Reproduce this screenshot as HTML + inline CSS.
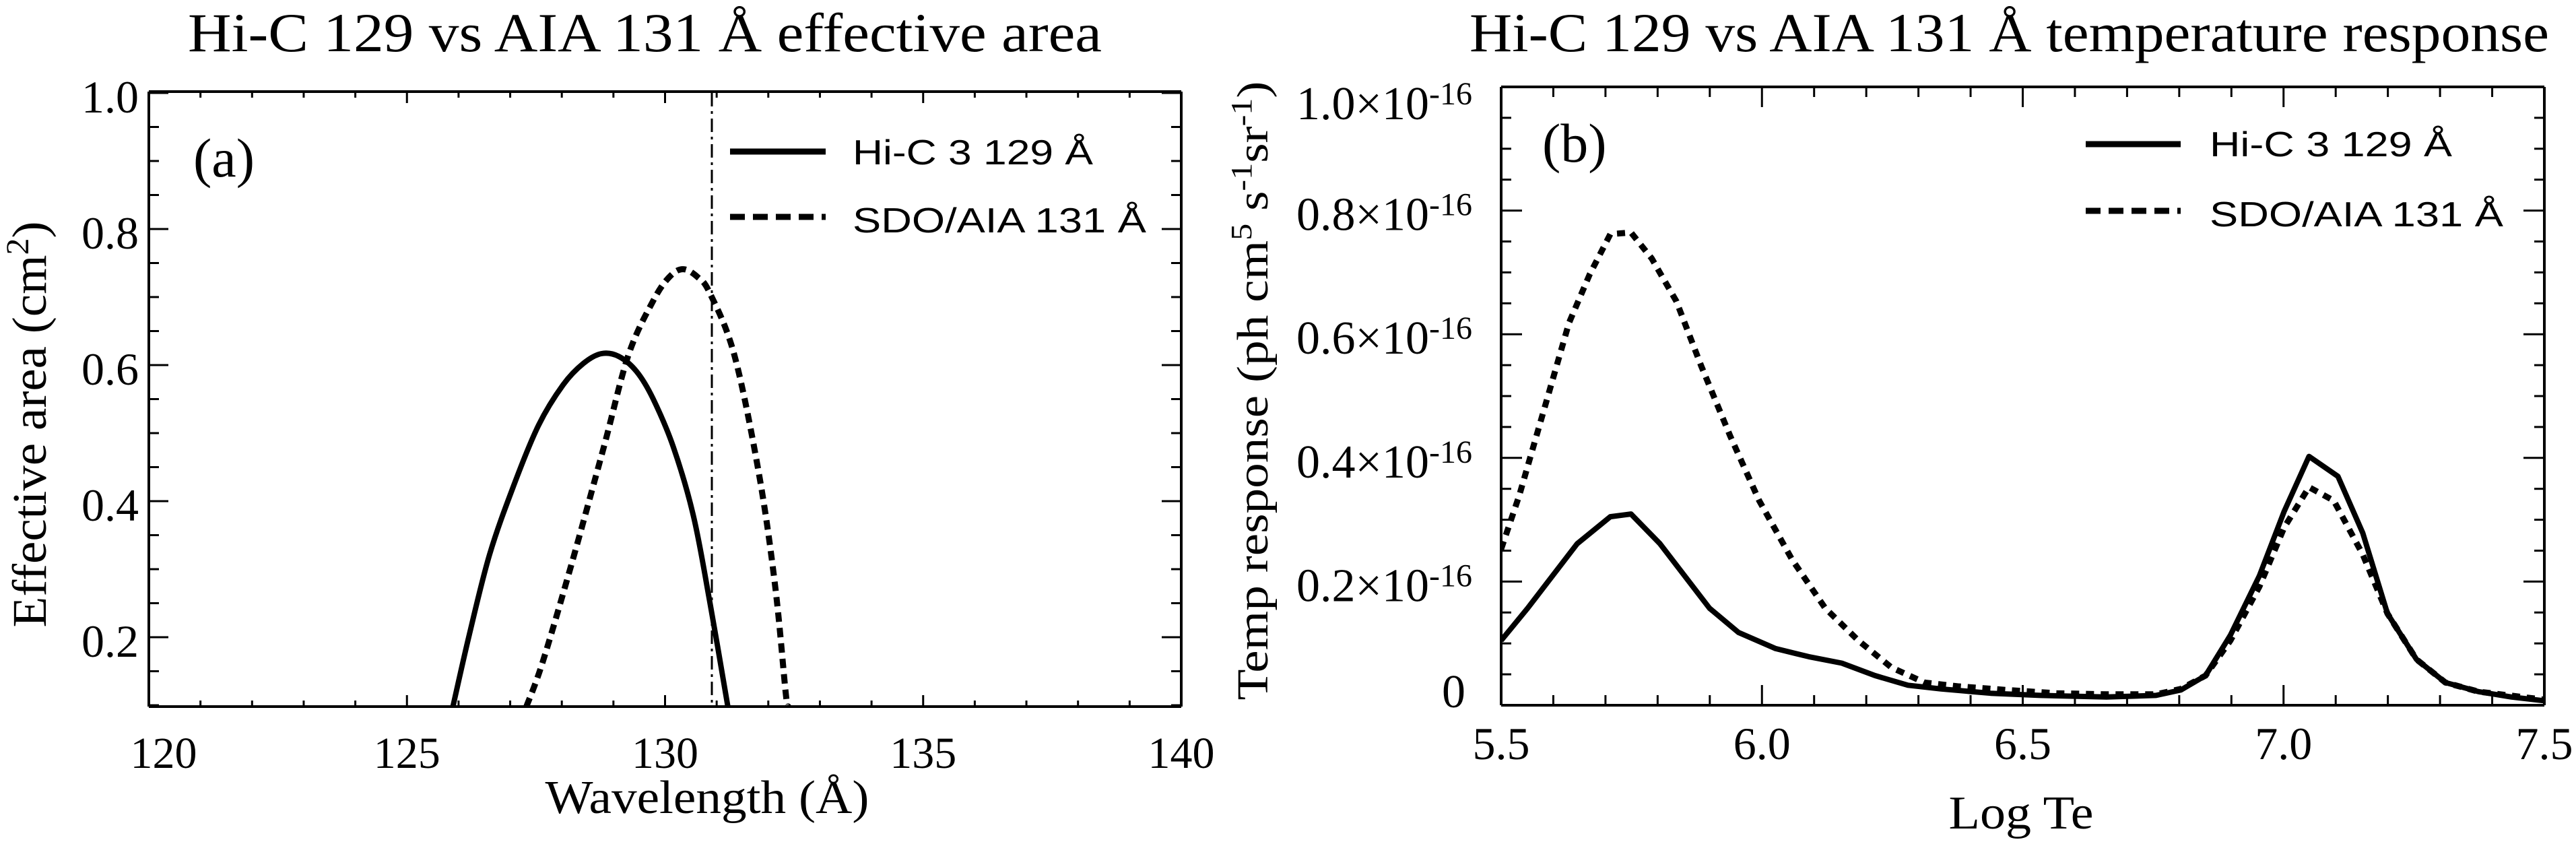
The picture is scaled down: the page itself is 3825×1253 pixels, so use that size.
<!DOCTYPE html>
<html><head><meta charset="utf-8"><style>
html,body{margin:0;padding:0;background:#fff;}
svg{display:block}
.serif{font-family:"Liberation Serif",serif;fill:#000}
.sans{font-family:"Liberation Sans",sans-serif;fill:#000}
</style></head><body>
<svg id="s" xmlns="http://www.w3.org/2000/svg" width="3825" height="1253" viewBox="0 0 3825 1253">
<rect width="3825" height="1253" fill="#fff"/>
<defs>
<clipPath id="ca"><rect x="221" y="136" width="1533" height="913"/></clipPath>
<clipPath id="cb"><rect x="2229" y="129" width="1549" height="918"/></clipPath>
</defs>
<text class="serif" x="279" y="76" font-size="82" textLength="1357" lengthAdjust="spacingAndGlyphs">Hi-C 129 vs  AIA 131 Å effective area</text>
<text class="serif" x="2182" y="76" font-size="82" textLength="1603" lengthAdjust="spacingAndGlyphs">Hi-C 129 vs AIA 131 Å temperature response</text>
<g id="axes"></g>
<line x1="1057" y1="138" x2="1057" y2="1049" stroke="#000" stroke-width="3" stroke-dasharray="20 7 4 7"/>
<g clip-path="url(#ca)">
<path id="a1" fill="none" stroke="#000" stroke-width="8" stroke-linejoin="round"/>
<path id="a2" fill="none" stroke="#000" stroke-width="9" stroke-dasharray="14 9"/>
</g>
<text class="serif" x="287" y="262" font-size="82">(a)</text>
<line x1="1084" y1="225" x2="1226" y2="225" stroke="#000" stroke-width="9"/>
<line x1="1084" y1="322" x2="1226" y2="322" stroke="#000" stroke-width="9" stroke-dasharray="22 12"/>
<text class="sans" x="1266" y="244" font-size="52" textLength="357" lengthAdjust="spacingAndGlyphs">Hi-C 3 129 Å</text>
<text class="sans" x="1266" y="345" font-size="52" textLength="436" lengthAdjust="spacingAndGlyphs">SDO/AIA 131 Å</text>
<text class="serif" x="1050" y="1207" font-size="70" text-anchor="middle" textLength="481" lengthAdjust="spacingAndGlyphs">Wavelength (Å)</text>
<text class="serif" transform="translate(68,630) rotate(-90)" font-size="72" text-anchor="middle" textLength="603" lengthAdjust="spacingAndGlyphs">Effective area (cm<tspan font-size="48" dy="-26">2</tspan><tspan dy="26">)</tspan></text>
<g clip-path="url(#cb)">
<polyline id="b2" fill="none" stroke="#000" stroke-width="9" stroke-dasharray="12 10"/>
<polyline id="b1" fill="none" stroke="#000" stroke-width="8" stroke-linejoin="round"/>
</g>
<text class="serif" x="2290" y="240" font-size="82">(b)</text>
<line x1="3097" y1="214" x2="3238" y2="214" stroke="#000" stroke-width="9"/>
<line x1="3097" y1="313" x2="3238" y2="313" stroke="#000" stroke-width="9" stroke-dasharray="22 12"/>
<text class="sans" x="3281" y="232" font-size="52" textLength="360" lengthAdjust="spacingAndGlyphs">Hi-C 3 129 Å</text>
<text class="sans" x="3281" y="336" font-size="52" textLength="436" lengthAdjust="spacingAndGlyphs">SDO/AIA 131 Å</text>
<text class="serif" x="3001" y="1230" font-size="70" text-anchor="middle" textLength="215" lengthAdjust="spacingAndGlyphs">Log Te</text>
<text class="serif" transform="translate(1882,580) rotate(-90)" font-size="66" text-anchor="middle" textLength="919" lengthAdjust="spacingAndGlyphs">Temp response (ph cm<tspan font-size="44" dy="-24">5</tspan><tspan dy="24"> s</tspan><tspan font-size="44" dy="-24">-1</tspan><tspan dy="24">sr</tspan><tspan font-size="44" dy="-24">-1</tspan><tspan dy="24">)</tspan></text>
</svg>
<script>
var NS="http://www.w3.org/2000/svg";
var ax=document.getElementById("axes");
function L(x1,y1,x2,y2,w){var l=document.createElementNS(NS,"line");l.setAttribute("x1",x1);l.setAttribute("y1",y1);l.setAttribute("x2",x2);l.setAttribute("y2",y2);l.setAttribute("stroke","#000");l.setAttribute("stroke-width",w||3);ax.appendChild(l);}
function T(x,y,s,anchor,size){var t=document.createElementNS(NS,"text");t.setAttribute("x",x);t.setAttribute("y",y);t.setAttribute("class","serif");t.setAttribute("font-size",size||68);t.setAttribute("text-anchor",anchor||"middle");t.textContent=s;ax.appendChild(t);return t;}
var aL=221,aR=1754,aT=136,aB=1049;
L(aL,aT,aR,aT,4);L(aL,aB,aR,aB,4);L(aL,aT,aL,aB,4);L(aR,aT,aR,aB,4);
for(var i=0;i<=20;i++){var x=aL+i*(aR-aL)/20;var len=(i%5==0)?17:9;L(x,aB,x,aB-len);L(x,aT,x,aT+len);
 if(i%5==0){T(x+(i==0?22:0),1140,String(120+i),"middle",66);}}
for(var v=0.1;v<=1.0001;v+=0.05){var y=138+(1-v)*1010;var maj=Math.abs(v*10-Math.round(v*10))<0.01&&Math.round(v*10)%2==0;var len=maj?29:15;L(aL,y,aL+len,y);L(aR,y,aR-len,y);
 if(maj){T(206,y+29,v.toFixed(1),"end",68);}}
var bL=2229,bR=3778,bT=129,bB=1047;
L(bL,bT,bR,bT,4);L(bL,bB,bR,bB,4);L(bL,bT,bL,bB,4);L(bR,bT,bR,bB,4);
for(var i=0;i<=20;i++){var x=bL+i*(bR-bL)/20;var len=(i%5==0)?30:15;L(x,bB,x,bB-len);L(x,bT,x,bT+len);
 if(i%5==0){T(x,1127,(5.5+i*0.1).toFixed(1),"middle",68);}}
for(var j=0;j<=20;j++){var y=bB-j*(bB-bT)/20;var maj=(j%4==0);var len=maj?31:15;L(bL,y,bL+len,y);L(bR,y,bR-len,y);
 if(maj){var val=j/20;if(j==0){T(2176,1050,"0","end",70);}else{var t=T(2186,(j==20?177:y+29),"","end",70);
  var s1=document.createElementNS(NS,"tspan");s1.textContent=val.toFixed(1)+"×10";t.appendChild(s1);
  var s2=document.createElementNS(NS,"tspan");s2.setAttribute("font-size","48");s2.setAttribute("dy","-22");s2.textContent="-16";t.appendChild(s2);}}}
function conv(pts,ox,sx,sy){var r=[];for(var i=0;i<pts.length;i+=2)r.push([ox+pts[i]*sx,pts[i+1]*sy]);return r;}
function P(id,pts,ox,sx,sy){var s=conv(pts,ox,sx,sy).map(function(p){return p[0].toFixed(1)+","+p[1].toFixed(1);});document.getElementById(id).setAttribute("points",s.join(" "));}
function S(id,pts,ox,sx,sy){var p=conv(pts,ox,sx,sy);var d="M"+p[0][0].toFixed(1)+","+p[0][1].toFixed(1);
 for(var i=0;i<p.length-1;i++){var p0=p[i>0?i-1:0],p1=p[i],p2=p[i+1],p3=p[i+2<p.length?i+2:i+1];
  var c1x=p1[0]+(p2[0]-p0[0])/6,c1y=p1[1]+(p2[1]-p0[1])/6,c2x=p2[0]-(p3[0]-p1[0])/6,c2y=p2[1]-(p3[1]-p1[1])/6;
  d+=" C"+c1x.toFixed(1)+","+c1y.toFixed(1)+" "+c2x.toFixed(1)+","+c2y.toFixed(1)+" "+p2[0].toFixed(1)+","+p2[1].toFixed(1);}
 document.getElementById(id).setAttribute("d",d);}
S("a1",[555,1313,575,1180,600,1030,630,900,660,790,690,715,715,675,737,657,758,662,780,690,800,740,825,830,850,960,870,1120,892,1313],0,1.2117,0.7991);
S("a2",[645,1313,665,1230,700,1050,740,830,770,660,800,560,820,515,837,500,855,515,870,545,900,660,930,880,950,1090,963,1290,966,1313],0,1.2117,0.7991);
P("b1",[268,1190,300,1130,360,1010,400,960,425,955,460,1010,520,1130,555,1175,600,1205,640,1220,680,1232,720,1255,760,1273,800,1280,860,1288,920,1292,1000,1295,1060,1292,1090,1282,1120,1255,1150,1180,1185,1070,1215,950,1245,848,1280,885,1310,990,1340,1140,1375,1225,1410,1268,1450,1285,1490,1295,1530,1302],1900,1.2277,0.7991);
P("b2",[268,1020,290,920,320,760,350,600,375,510,400,435,425,432,450,480,480,560,510,680,545,810,580,930,620,1040,660,1130,700,1190,740,1240,780,1268,820,1275,880,1282,940,1288,1000,1290,1060,1290,1090,1280,1120,1255,1150,1190,1185,1090,1215,980,1245,905,1275,930,1310,1030,1340,1140,1375,1225,1410,1268,1450,1285,1530,1300],1900,1.2277,0.7991);
</script>
</body></html>
